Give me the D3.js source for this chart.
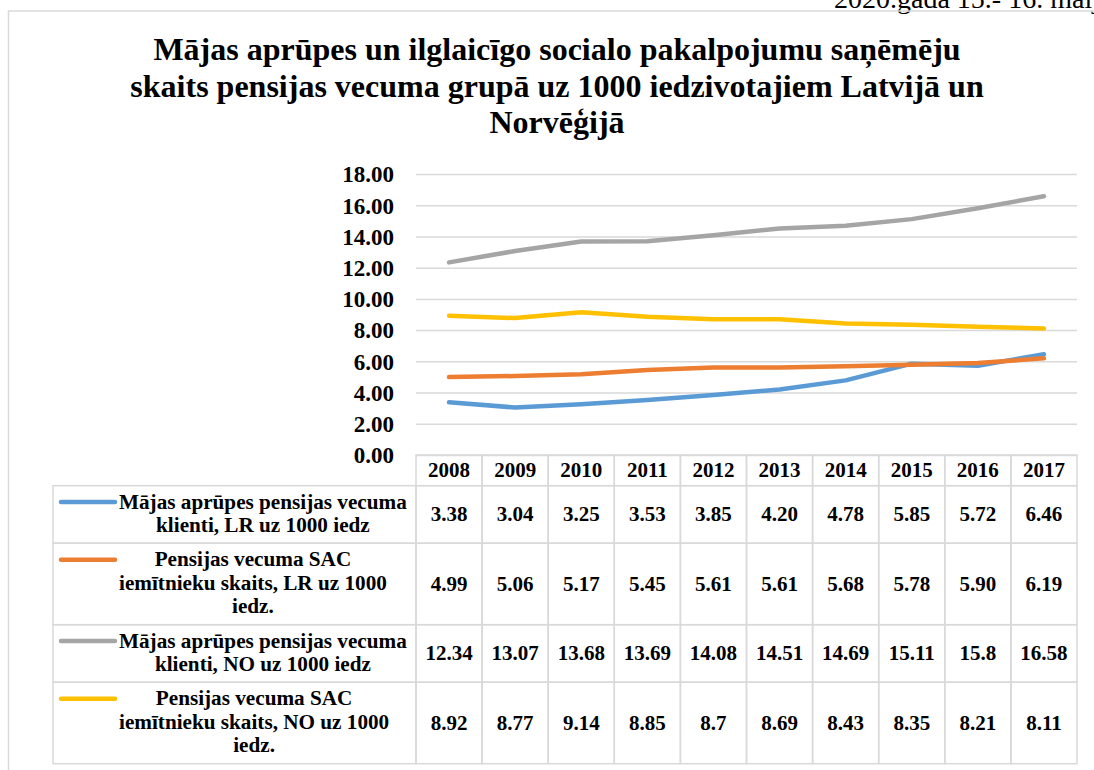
<!DOCTYPE html>
<html>
<head>
<meta charset="utf-8">
<script src="https://cdn.jsdelivr.net/npm/d3@7"></script>
<style>
  body { margin: 0; background: #fff; }
  svg { display: block; font-family: "Times New Roman", "Liberation Serif", serif; }
</style>
</head>
<body>
<svg width="1094" height="770"></svg>
<script>
// data
var years = ["2008", "2009", "2010", "2011", "2012", "2013", "2014", "2015", "2016", "2017"];
var homeCareLR = [3.38, 3.04, 3.25, 3.53, 3.85, 4.20, 4.78, 5.85, 5.72, 6.46];
var residentsLR = [4.99, 5.06, 5.17, 5.45, 5.61, 5.61, 5.68, 5.78, 5.90, 6.19];
var homeCareNO = [12.34, 13.07, 13.68, 13.69, 14.08, 14.51, 14.69, 15.11, 15.8, 16.58];
var residentsNO = [8.92, 8.77, 9.14, 8.85, 8.7, 8.69, 8.43, 8.35, 8.21, 8.11];
var seriesNames = [
  ["Mājas aprūpes pensijas vecuma", "klienti, LR uz 1000 iedz"],
  ["Pensijas vecuma SAC", "iemītnieku skaits, LR uz 1000", "iedz."],
  ["Mājas aprūpes pensijas vecuma", "klienti, NO uz 1000 iedz"],
  ["Pensijas vecuma SAC", "iemītnieku skaits, NO uz 1000", "iedz."]
];
var yTicks = [0, 2, 4, 6, 8, 10, 12, 14, 16, 18];
var titleLines = [
  "Mājas aprūpes un ilglaicīgo socialo pakalpojumu saņēmēju",
  "skaits pensijas vecuma grupā uz 1000 iedzivotajiem Latvijā un",
  "Norvēģijā"
];
var headerNote = "2020.gada 15.- 16. maijā";

var colors = ["#5B9BD5", "#ED7D31", "#A5A5A5", "#FFC000"];
var series = [
  { values: homeCareLR, fmt: function(v) { return v.toFixed(2); } },
  { values: residentsLR, fmt: function(v) { return v.toFixed(2); } },
  { values: homeCareNO, fmt: function(v) { return String(v); } },
  { values: residentsNO, fmt: function(v) { return String(v); } }
];
series.forEach(function(s, i) { s.name = seriesNames[i]; s.color = colors[i]; });

var svg = d3.select("svg");
var gridColor = "#d9d9d9";

// note at top (cut by the page edge)
svg.append("text")
  .attr("x", 834).attr("y", 8)
  .style("font-size", "28px")
  .text(headerNote);

// chart frame
svg.append("rect")
  .attr("x", 8.5).attr("y", 11)
  .attr("width", 1200).attr("height", 900)
  .attr("fill", "none")
  .attr("stroke", gridColor)
  .attr("stroke-width", 1.5);

// title
svg.append("g").selectAll("text")
  .data(titleLines)
  .enter().append("text")
  .attr("x", 557)
  .attr("y", function(d, i) { return 60 + i * 36.5; })
  .attr("text-anchor", "middle")
  .style("font-size", "32px")
  .style("font-weight", "bold")
  .text(function(d) { return d; });

var plotLeft = 416, plotRight = 1077, plotTop = 174, plotBottom = 455;

var xScale = d3.scaleBand().domain(years).range([plotLeft, plotRight]);
var yScale = d3.scaleLinear().domain([0, 18]).range([plotBottom, plotTop]);

// y axis with gridlines
var yAxis_group = svg.append("g")
  .attr("transform", "translate(" + plotLeft + ",0)")
  .call(d3.axisLeft(yScale)
    .tickValues(yTicks)
    .tickFormat(d3.format(".2f"))
    .tickSize(-(plotRight - plotLeft))
    .tickPadding(22));
yAxis_group.select(".domain").remove();
yAxis_group.selectAll(".tick line")
  .attr("stroke", gridColor)
  .attr("stroke-width", 1.5);
yAxis_group.selectAll(".tick text")
  .attr("fill", "#000")
  .attr("dy", "0.34em")
  .style("font-size", "23px")
  .style("font-weight", "bold")
  .style("font-family", "'Times New Roman', 'Liberation Serif', serif");

// lines
var line = d3.line()
  .x(function(d, i) { return xScale(years[i]) + xScale.bandwidth() / 2; })
  .y(function(d) { return yScale(d); });

svg.append("g").selectAll("path")
  .data(series)
  .enter().append("path")
  .attr("d", function(d) { return line(d.values); })
  .attr("fill", "none")
  .attr("stroke", function(d) { return d.color; })
  .attr("stroke-width", 4.5)
  .attr("stroke-linecap", "round")
  .attr("stroke-linejoin", "round");

// data table
var table = svg.append("g");
var tableLeft = 53, legendRight = plotLeft, headerBottom = 485.7;
var lineH = 23.5;
var rows = [];
var rowTop = headerBottom;
series.forEach(function(s) {
  var h = s.name.length * 24 + 9.5;
  rows.push({ s: s, y0: rowTop, y1: rowTop + h });
  rowTop += h;
});

var cellStroke = function(sel) {
  sel.attr("fill", "none").attr("stroke", gridColor).attr("stroke-width", 1.5);
};

// header cells
table.selectAll(".hcell")
  .data(years)
  .enter().append("rect")
  .attr("class", "hcell")
  .attr("x", function(d) { return xScale(d); })
  .attr("y", plotBottom)
  .attr("width", xScale.bandwidth())
  .attr("height", headerBottom - plotBottom)
  .call(cellStroke);

table.selectAll(".htext")
  .data(years)
  .enter().append("text")
  .attr("class", "htext")
  .attr("x", function(d) { return xScale(d) + xScale.bandwidth() / 2; })
  .attr("y", (plotBottom + headerBottom) / 2 + 6.5)
  .attr("text-anchor", "middle")
  .style("font-size", "21px")
  .style("font-weight", "bold")
  .text(function(d) { return d; });

rows.forEach(function(r) {
  var mid = (r.y0 + r.y1) / 2;
  table.append("rect")
    .attr("x", tableLeft).attr("y", r.y0)
    .attr("width", legendRight - tableLeft).attr("height", r.y1 - r.y0)
    .call(cellStroke);

  years.forEach(function(yr, i) {
    table.append("rect")
      .attr("x", xScale(yr)).attr("y", r.y0)
      .attr("width", xScale.bandwidth()).attr("height", r.y1 - r.y0)
      .call(cellStroke);
    table.append("text")
      .attr("x", xScale(yr) + xScale.bandwidth() / 2)
      .attr("y", mid + 7)
      .attr("text-anchor", "middle")
      .style("font-size", "21px")
      .style("font-weight", "bold")
      .text(r.s.fmt(r.s.values[i]));
  });

  // legend key and label
  var n = r.s.name.length;
  var firstBase = mid - (n - 1) * lineH / 2 + 6;
  table.append("line")
    .attr("x1", 61).attr("x2", 115)
    .attr("y1", firstBase - 6.8).attr("y2", firstBase - 6.8)
    .attr("stroke", r.s.color)
    .attr("stroke-width", 4.5)
    .attr("stroke-linecap", "round");

  var labels = table.append("g");
  labels.selectAll("text")
    .data(r.s.name)
    .enter().append("text")
    .attr("y", function(d, i) { return firstBase + i * lineH; })
    .attr("text-anchor", "middle")
    .style("font-size", "21.2px")
    .style("font-weight", "bold")
    .text(function(d) { return d; });
  var maxW = 0;
  labels.selectAll("text").each(function() {
    maxW = Math.max(maxW, this.getComputedTextLength());
  });
  labels.selectAll("text").attr("x", 119 + maxW / 2);
});
</script>
</body>
</html>
